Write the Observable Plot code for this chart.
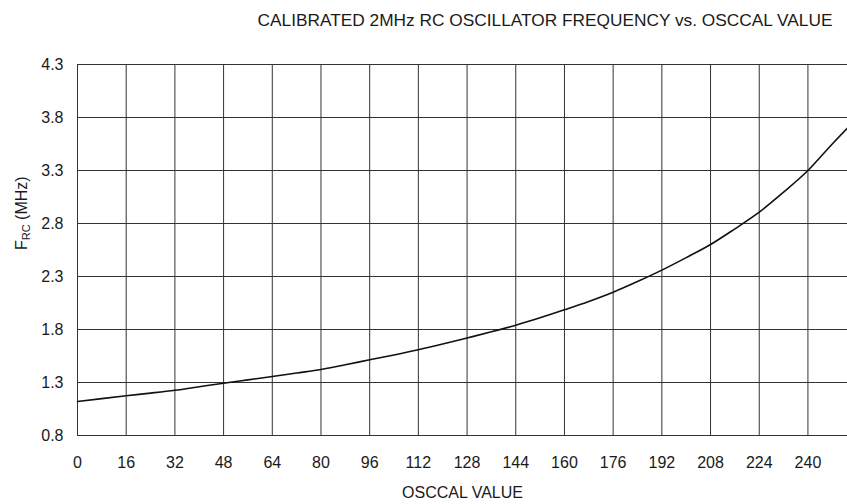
<!DOCTYPE html>
<html>
<head>
<meta charset="utf-8">
<script src="https://cdn.jsdelivr.net/npm/d3@7"></script>
<script src="https://cdn.jsdelivr.net/npm/@observablehq/plot@0.6"></script>
<style>
  html, body { margin: 0; padding: 0; background: #fff; }
  #title { width: 847px; height: 40px; font: 17.3px "Liberation Sans", Arial, sans-serif; line-height: 40px; color: #1a1a1a; text-align: center; box-sizing: border-box; padding-left: 243px; white-space: nowrap; overflow: hidden; }
  #chart svg { display: block; }
</style>
</head>
<body>
<div id="title">CALIBRATED 2MHz RC OSCILLATOR FREQUENCY vs. OSCCAL VALUE</div>
<div id="chart"></div>
<script>
// OSCCAL value (x) and calibrated RC oscillator frequency in MHz (y)
const osccal = [0, 8, 16, 24, 32, 40, 48, 56, 64, 72, 80, 88, 96, 104, 112, 120, 128, 136, 144, 152, 160, 168, 176, 184, 192, 200, 208, 216, 224, 232, 240, 248, 253];
const freqMHz = [1.12, 1.148, 1.175, 1.20, 1.227, 1.26, 1.293, 1.325, 1.357, 1.39, 1.423, 1.467, 1.514, 1.56, 1.609, 1.663, 1.72, 1.778, 1.84, 1.91, 1.986, 2.065, 2.152, 2.252, 2.36, 2.478, 2.602, 2.75, 2.907, 3.096, 3.30, 3.55, 3.70];
const xTicks = [0, 16, 32, 48, 64, 80, 96, 112, 128, 144, 160, 176, 192, 208, 224, 240];
const yTicks = [0.8, 1.3, 1.8, 2.3, 2.8, 3.3, 3.8, 4.3];

const data = osccal.map((x, i) => ({x, y: freqMHz[i]}));

const plot = Plot.plot({
  width: 847,
  height: 464,
  marginTop: 24,
  marginBottom: 69,
  marginLeft: 77,
  marginRight: 0,
  style: {fontFamily: '"Liberation Sans", Arial, sans-serif', fontSize: "16px", color: "#1a1a1a", background: "#fff"},
  x: {domain: [0, 253]},
  y: {domain: [0.8, 4.3]},
  marks: [
    Plot.ruleX(xTicks, {stroke: "#333", strokeWidth: 1}),
    Plot.ruleY(yTicks, {stroke: "#333", strokeWidth: 1}),
    Plot.axisX(xTicks, {tickSize: 0, tickPadding: 21, fontSize: 16, label: "OSCCAL VALUE", labelAnchor: "center", labelArrow: "none", labelOffset: 62}),
    Plot.axisY(yTicks, {tickSize: 0, tickPadding: 14, fontSize: 16, tickFormat: d3.format(".1f"), label: null}),
    Plot.line(data, {x: "x", y: "y", stroke: "#111", strokeWidth: 1.6, curve: "monotone-x"}),
    Plot.text(["F (MHz)"], {frameAnchor: "left", rotate: -90, dx: -56, fontSize: 16, fill: "#1a1a1a", className: "ylab"})
  ]
});
document.getElementById("chart").appendChild(plot);

// Subscript "RC" in the y-axis label
const t = plot.querySelector(".ylab text");
if (t) {
  t.innerHTML = 'F<tspan font-size="11" dy="3">RC</tspan><tspan dy="-3"> (MHz)</tspan>';
}
</script>
</body>
</html>
